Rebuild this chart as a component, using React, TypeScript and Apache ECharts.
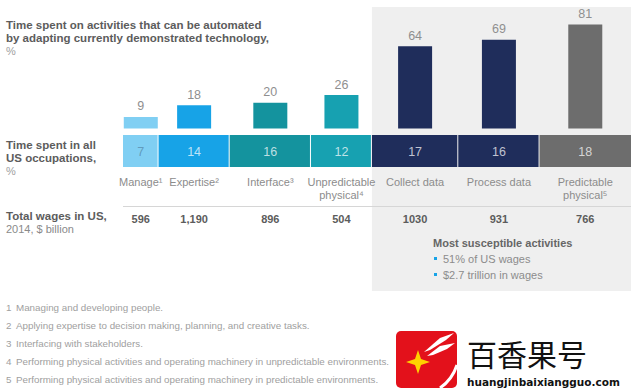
import React, { useEffect, useRef } from "react";
import * as echarts from "echarts";

const categories = [
  "Manage¹",
  "Expertise²",
  "Interface³",
  "Unpredictable\nphysical⁴",
  "Collect data",
  "Process data",
  "Predictable\nphysical⁵",
];
const automatable = [9, 18, 20, 26, 64, 69, 81];
const timeShare = [7, 14, 16, 12, 17, 16, 18];
const wages = ["596", "1,190", "896", "504", "1030", "931", "766"];
const susceptibleFrom = 4;
const susceptibleTitle = "Most susceptible activities";
const susceptibleBullets = ["51% of US wages", "$2.7 trillion in wages"];
const footnotes = [
  "Managing and developing people.",
  "Applying expertise to decision making, planning, and creative tasks.",
  "Interfacing with stakeholders.",
  "Performing physical activities and operating machinery in unpredictable environments.",
  "Performing physical activities and operating machinery in predictable environments.",
];

const COLORS = ["#80cff3", "#17a3e7", "#14939e", "#17a1b1", "#1f2d5b", "#1f2d5b", "#6d6d6d"];
const FONT = "'Liberation Sans', Arial, Helvetica, sans-serif";

const GRID_LEFT = 123;
const GRID_RIGHT = 9;
const PLOT_W = 640 - GRID_LEFT - GRID_RIGHT;

export default function App() {
  const ref = useRef<HTMLDivElement>(null);
  useEffect(() => {
    if (!ref.current) return;
    const chart = echarts.init(ref.current, undefined, { renderer: "svg" });

    const starts: number[] = [];
    let acc = 0;
    timeShare.forEach((v) => {
      starts.push(acc);
      acc += v;
    });
    const ends = starts.map((s, i) => s + timeShare[i]);
    const mids = starts.map((s, i) => s + timeShare[i] / 2);
    const boxX = GRID_LEFT + (starts[susceptibleFrom] / 100) * PLOT_W;
    const boxW = 640 - GRID_RIGHT - boxX;

    const graphics: any[] = [
      {
        type: "rect",
        z: -10,
        silent: true,
        shape: { x: boxX, y: 7, width: boxW, height: 284 },
        style: { fill: "#efefef" },
      },
      {
        type: "line",
        z: 5,
        shape: { x1: GRID_LEFT, y1: 206.5, x2: 640 - GRID_RIGHT, y2: 206.5 },
        style: { stroke: "#d6d6d6", lineWidth: 1 },
      },
    ];
    const addText = (text: string, x: number, y: number, fill: string, font: string, align = "left") => {
      graphics.push({
        type: "text",
        z: 20,
        style: { text, x, y, fill, font, textAlign: align, textVerticalAlign: "middle" },
      });
    };
    addText("Time spent on activities that can be automated", 6, 25, "#5c5c5c", `bold 11.5px ${FONT}`);
    addText("by adapting currently demonstrated technology,", 6, 38, "#5c5c5c", `bold 11.5px ${FONT}`);
    addText("%", 6, 51, "#a0a0a0", `11px ${FONT}`);
    addText("Time spent in all", 6, 145, "#5c5c5c", `bold 11.5px ${FONT}`);
    addText("US occupations,", 6, 158, "#5c5c5c", `bold 11.5px ${FONT}`);
    addText("%", 6, 171, "#a0a0a0", `11px ${FONT}`);
    addText("Total wages in US,", 6, 216, "#5c5c5c", `bold 11.5px ${FONT}`);
    addText("2014, $ billion", 6, 229, "#8a8a8a", `11px ${FONT}`);
    addText(susceptibleTitle, 433, 243, "#666666", `bold 11px ${FONT}`);
    susceptibleBullets.forEach((b, i) => {
      graphics.push({
        type: "rect",
        z: 20,
        shape: { x: 434, y: 257 + i * 16, width: 3, height: 3 },
        style: { fill: "#17a3e7" },
      });
      addText(b, 443, 259 + i * 16, "#8c8c8c", `11px ${FONT}`);
    });
    footnotes.forEach((f, i) => {
      addText(String(i + 1), 6, 307 + i * 18, "#a0a0a0", `9.8px ${FONT}`);
      addText(f, 16, 307 + i * 18, "#a0a0a0", `9.8px ${FONT}`);
    });

    // watermark
    graphics.push(
      {
        type: "rect",
        z: 30,
        shape: { x: 396, y: 331, width: 61, height: 57, r: 5 },
        style: { fill: "#e3111b" },
      },
      {
        type: "polygon",
        z: 31,
        shape: { points: [[454, 333], [440, 338], [424, 352], [430, 350], [446, 340]] },
        style: { fill: "#ffffff" },
      },
      {
        type: "polygon",
        z: 31,
        shape: { points: [[455, 343], [440, 346], [427, 356], [433, 355], [447, 349]] },
        style: { fill: "#ffffff" },
      },
      {
        type: "bezierCurve",
        z: 31,
        shape: { x1: 440, y1: 388, x2: 457, y2: 365, cpx1: 452, cpy1: 380 },
        style: { stroke: "#ffffff", lineWidth: 3, fill: "none" },
      },
      {
        type: "polygon",
        z: 32,
        shape: {
          points: [[418, 350], [421, 359], [430, 362], [421, 365], [418, 374], [415, 365], [406, 362], [415, 359]],
        },
        style: { fill: "#ffd200" },
      },
      {
        type: "text",
        z: 30,
        style: {
          text: "百香果号",
          x: 467,
          y: 353,
          fill: "#111111",
          font: "30px 'Noto Sans CJK SC', sans-serif",
          textVerticalAlign: "middle",
        },
      },
      {
        type: "text",
        z: 30,
        style: {
          text: "huangjinbaixiangguo.com",
          x: 467,
          y: 382,
          fill: "#111111",
          font: "bold 10.5px 'DejaVu Sans', sans-serif",
          textVerticalAlign: "middle",
        },
      }
    );

    chart.setOption({
      animation: false,
      grid: [
        { left: GRID_LEFT, right: GRID_RIGHT, top: 0, height: 128.5 },
        { left: GRID_LEFT, right: GRID_RIGHT, top: 135, height: 32 },
      ],
      xAxis: [
        { type: "value", gridIndex: 0, min: 0, max: 100, show: false },
        { type: "value", gridIndex: 1, min: 0, max: 100, show: false },
      ],
      yAxis: [
        { type: "value", gridIndex: 0, min: 0, max: 100, show: false },
        { type: "value", gridIndex: 1, min: 0, max: 1, show: false },
      ],
      graphic: graphics,
      series: [
        {
          type: "bar",
          xAxisIndex: 0,
          yAxisIndex: 0,
          barWidth: 34,
          data: automatable.map((v, i) => ({
            value: [mids[i], v],
            itemStyle: { color: COLORS[i] },
          })),
          label: {
            show: true,
            position: "top",
            distance: 4,
            color: "#8f8f8f",
            fontSize: 12.5,
            fontFamily: FONT,
            formatter: (p: any) => String(p.value[1]),
          },
        },
        {
          type: "custom",
          xAxisIndex: 1,
          yAxisIndex: 1,
          data: starts.map((s, i) => [s, ends[i], timeShare[i], i]),
          renderItem: (params: any, api: any) => {
            const i = api.value(3);
            const p0 = api.coord([api.value(0), 1]);
            const p1 = api.coord([api.value(1), 0]);
            const last = i === categories.length - 1;
            const w = p1[0] - p0[0] - (last ? 0 : 1);
            const cx = (p0[0] + p1[0]) / 2;
            const bottom = p1[1];
            return {
              type: "group",
              children: [
                {
                  type: "rect",
                  shape: { x: p0[0], y: p0[1], width: w, height: p1[1] - p0[1] },
                  style: { fill: COLORS[i] },
                },
                {
                  type: "text",
                  style: {
                    text: String(api.value(2)),
                    x: cx,
                    y: (p0[1] + p1[1]) / 2 + 1,
                    fill: i === 0 ? "rgba(70,110,140,0.55)" : "rgba(255,255,255,0.72)",
                    font: `12.5px ${FONT}`,
                    textAlign: "center",
                    textVerticalAlign: "middle",
                  },
                },
                {
                  type: "text",
                  style: {
                    text: categories[i],
                    x: cx,
                    y: bottom + 8.5,
                    fill: "#8c8c8c",
                    font: `11px ${FONT}`,
                    lineHeight: 13,
                    textAlign: "center",
                    textVerticalAlign: "top",
                  },
                },
                {
                  type: "text",
                  style: {
                    text: wages[i],
                    x: cx,
                    y: bottom + 52,
                    fill: "#5c5c5c",
                    font: `bold 11px ${FONT}`,
                    textAlign: "center",
                    textVerticalAlign: "middle",
                  },
                },
              ],
            };
          },
        },
      ],
    });
    return () => chart.dispose();
  }, []);
  return (
    <div
      ref={ref}
      style={{ position: "absolute", left: 0, top: 0, width: 640, height: 391, background: "#ffffff" }}
    />
  );
}
